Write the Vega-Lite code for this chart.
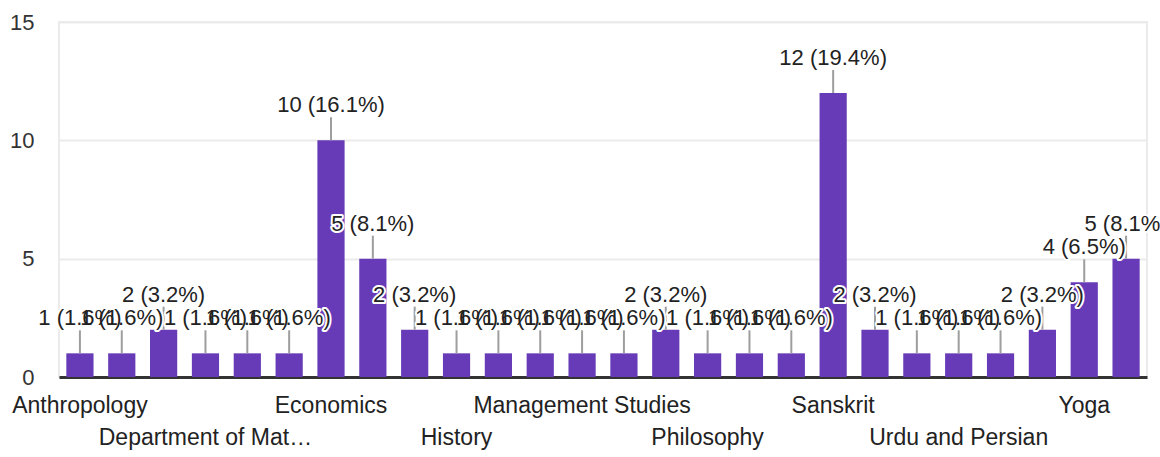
{
  "$schema": "https://vega.github.io/schema/vega-lite/v6.json",
  "width": 1088,
  "height": 355,
  "autosize": "none",
  "padding": {"left": 59, "top": 22, "right": 13, "bottom": 80},
  "background": "white",
  "config": {
    "view": {"stroke": "#ebebeb", "strokeWidth": 2},
    "font": "Liberation Sans"
  },
  "data": {
    "values": [
      {"dept": "Anthropology", "count": 1, "label": "1 (1.6%)"},
      {"dept": "Botany", "count": 1, "label": "1 (1.6%)"},
      {"dept": "Commerce", "count": 2, "label": "2 (3.2%)"},
      {"dept": "Department of Mathematics", "count": 1, "label": "1 (1.6%)"},
      {"dept": "Department of Physics", "count": 1, "label": "1 (1.6%)"},
      {"dept": "Drawing and Painting", "count": 1, "label": "1 (1.6%)"},
      {"dept": "Economics", "count": 10, "label": "10 (16.1%)"},
      {"dept": "Education", "count": 5, "label": "5 (8.1%)"},
      {"dept": "English", "count": 2, "label": "2 (3.2%)"},
      {"dept": "History", "count": 1, "label": "1 (1.6%)"},
      {"dept": "Home Science", "count": 1, "label": "1 (1.6%)"},
      {"dept": "Law", "count": 1, "label": "1 (1.6%)"},
      {"dept": "Management Studies", "count": 1, "label": "1 (1.6%)"},
      {"dept": "Music", "count": 1, "label": "1 (1.6%)"},
      {"dept": "Pali", "count": 2, "label": "2 (3.2%)"},
      {"dept": "Philosophy", "count": 1, "label": "1 (1.6%)"},
      {"dept": "Political Science", "count": 1, "label": "1 (1.6%)"},
      {"dept": "Psychology", "count": 1, "label": "1 (1.6%)"},
      {"dept": "Sanskrit", "count": 12, "label": "12 (19.4%)"},
      {"dept": "Sociology", "count": 2, "label": "2 (3.2%)"},
      {"dept": "Statistics", "count": 1, "label": "1 (1.6%)"},
      {"dept": "Urdu and Persian", "count": 1, "label": "1 (1.6%)"},
      {"dept": "Visual Arts", "count": 1, "label": "1 (1.6%)"},
      {"dept": "Women's Studies", "count": 2, "label": "2 (3.2%)"},
      {"dept": "Yoga", "count": 4, "label": "4 (6.5%)"},
      {"dept": "Zoology", "count": 5, "label": "5 (8.1%)"}
    ]
  },
  "encoding": {
    "x": {
      "field": "dept",
      "type": "nominal",
      "sort": null,
      "scale": {"paddingInner": 0.35, "paddingOuter": 0.175},
      "axis": {
        "title": null,
        "values": ["Anthropology", "Department of Mathematics", "Economics", "History", "Management Studies", "Philosophy", "Sanskrit", "Urdu and Persian", "Yoga"],
        "labelExpr": "indexof(['Department of Mathematics','History','Philosophy','Urdu and Persian'], datum.value) >= 0 ? ['', datum.value == 'Department of Mathematics' ? 'Department of Mat…' : datum.value] : datum.value",
        "labelAngle": 0,
        "labelAlign": "center",
        "labelBaseline": "top",
        "labelLineHeight": 32,
        "labelPadding": 17,
        "labelFontSize": 23,
        "labelColor": "#222222",
        "labelOverlap": false,
        "labelBound": false,
        "labelLimit": 400,
        "ticks": false,
        "grid": false,
        "domain": true,
        "domainColor": "#333333",
        "domainWidth": 3
      }
    },
    "y": {
      "field": "count",
      "type": "quantitative",
      "scale": {"domain": [0, 15], "nice": false},
      "axis": {
        "title": null,
        "values": [0, 5, 10, 15],
        "labelFontSize": 22,
        "labelColor": "#333333",
        "labelPadding": 25,
        "ticks": false,
        "domain": false,
        "gridColor": "#ebebeb",
        "gridWidth": 2
      }
    }
  },
  "layer": [
    {"mark": {"type": "bar", "color": "#673ab7"}},
    {
      "mark": {"type": "rule", "color": "#9e9e9e", "strokeWidth": 2, "y2Offset": -23},
      "encoding": {"y2": {"field": "count"}}
    },
    {
      "mark": {"type": "text", "baseline": "alphabetic", "dy": -28, "fontSize": 22, "stroke": "white", "strokeWidth": 4, "fill": "white", "strokeJoin": "round"},
      "encoding": {"text": {"field": "label"}}
    },
    {
      "mark": {"type": "text", "baseline": "alphabetic", "dy": -28, "fontSize": 22, "fill": "#222222"},
      "encoding": {"text": {"field": "label"}}
    }
  ]
}
